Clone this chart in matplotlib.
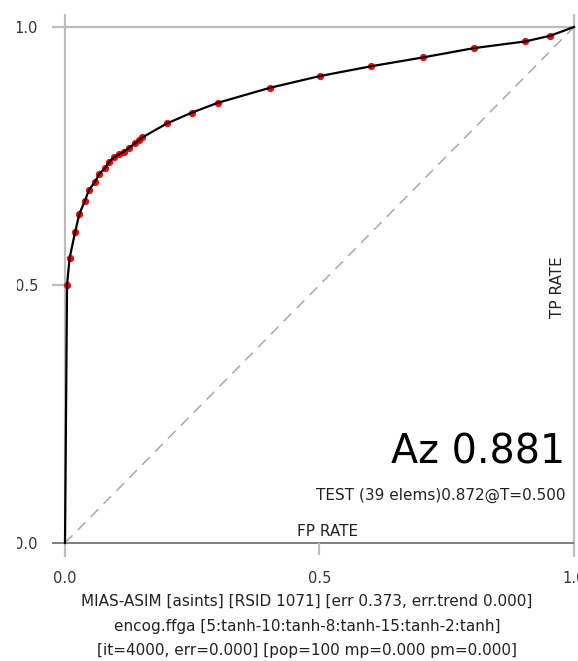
import matplotlib
matplotlib.use("Agg")
import matplotlib.pyplot as plt
from matplotlib.transforms import Bbox

# ROC data (FP rate, TP rate)
fpr = [0.0, 0.004, 0.009, 0.020, 0.028, 0.039, 0.047, 0.059, 0.067, 0.079,
       0.087, 0.097, 0.106, 0.115, 0.125, 0.138, 0.146, 0.152, 0.200, 0.249,
       0.300, 0.402, 0.501, 0.602, 0.703, 0.803, 0.904, 0.953, 1.0]
tpr = [0.0, 0.500, 0.552, 0.603, 0.637, 0.663, 0.684, 0.700, 0.715, 0.727,
       0.739, 0.748, 0.753, 0.758, 0.765, 0.775, 0.781, 0.786, 0.813, 0.834,
       0.853, 0.882, 0.905, 0.924, 0.941, 0.959, 0.972, 0.983, 1.0]
ticks = [0.0, 0.5, 1.0]
tick_labels = ["0.0", "0.5", "1.0"]

az_text = "Az 0.881"
test_text = "TEST (39 elems)0.872@T=0.500"
x_label = "FP RATE"
y_label = "TP RATE"
footer = ["MIAS-ASIM [asints] [RSID 1071] [err 0.373, err.trend 0.000]",
          "encog.ffga [5:tanh-10:tanh-8:tanh-15:tanh-2:tanh]",
          "[it=4000, err=0.000] [pop=100 mp=0.000 pm=0.000]"]

W, H = 578, 661
fig = plt.figure(figsize=(W / 100, H / 100), dpi=100)
fig.patch.set_facecolor("white")

x0, x1 = 65, 574
y0, y1 = 543, 27
ax = fig.add_axes([x0 / W, (H - y0) / H, (x1 - x0) / W, (y0 - y1) / H])
ax.set_xlim(0, 1)
ax.set_ylim(0, 1)
for s in ax.spines.values():
    s.set_visible(False)

gray = "#bdbdbd"
px_x = 1.0 / (x1 - x0)
px_y = 1.0 / (y0 - y1)
lw_frame = 1.6
kw = dict(clip_on=False, solid_capstyle="butt", zorder=1)
# frame lines
ax.plot([-13 * px_x, 1], [1, 1], color=gray, lw=lw_frame, **kw)
ax.plot([0, 0], [-14 * px_y, 1 + 13 * px_y], color=gray, lw=lw_frame, **kw)
ax.plot([1, 1], [-14 * px_y, 1 + 13 * px_y], color=gray, lw=lw_frame, **kw)
ax.plot([-13 * px_x, 1], [0, 0], color="#6a6a6a", lw=1.2, **kw)
ax.plot([-13 * px_x, 0], [0.5, 0.5], color=gray, lw=lw_frame, **kw)
ax.plot([0.5, 0.5], [-12 * px_y, 0], color=gray, lw=lw_frame, **kw)

ax.set_xticks(ticks)
ax.set_xticklabels(tick_labels)
ax.set_yticks(ticks)
ax.set_yticklabels(tick_labels)
ax.tick_params(axis="both", length=0, labelsize=10.5, labelcolor="#333333")
ax.tick_params(axis="x", pad=20)
ax.tick_params(axis="y", pad=19.5)

# diagonal
ax.plot([0, 1], [0, 1], color="#a8a8a8", lw=1.1, dashes=(7, 5), zorder=2)

# ROC curve
ax.plot(fpr[1:-1], tpr[1:-1], "o", color="#ff0000", ms=5.2, mew=0, zorder=3,
        clip_on=False)
ax.plot(fpr, tpr, color="black", lw=1.6, zorder=4, clip_on=False,
        solid_joinstyle="round")

fig.text(565 / W, 1 - 452 / H, az_text, fontsize=28.5, ha="right", va="center",
         color="black")
fig.text(565 / W, 1 - 495 / H, test_text, fontsize=11, ha="right",
         va="center", color="#222222")
fig.text(328 / W, 1 - 532 / H, x_label, fontsize=11, ha="center",
         va="center", color="#222222")
fig.text(557 / W, 1 - 287 / H, y_label, fontsize=11, ha="center",
         va="center", rotation=90, color="#222222")
for i, line in enumerate(footer):
    fig.text(307 / W, 1 - (601 + 25 * i) / H, line, fontsize=11,
             ha="center", va="center", color="#222222")

# clip left tick labels like the reference
clip = Bbox.from_extents(17, 0, W, H)
for t in ax.get_yticklabels():
    t.set_clip_box(clip)
    t.set_clip_on(True)

fig.savefig("out.png", dpi=100, facecolor="white")
